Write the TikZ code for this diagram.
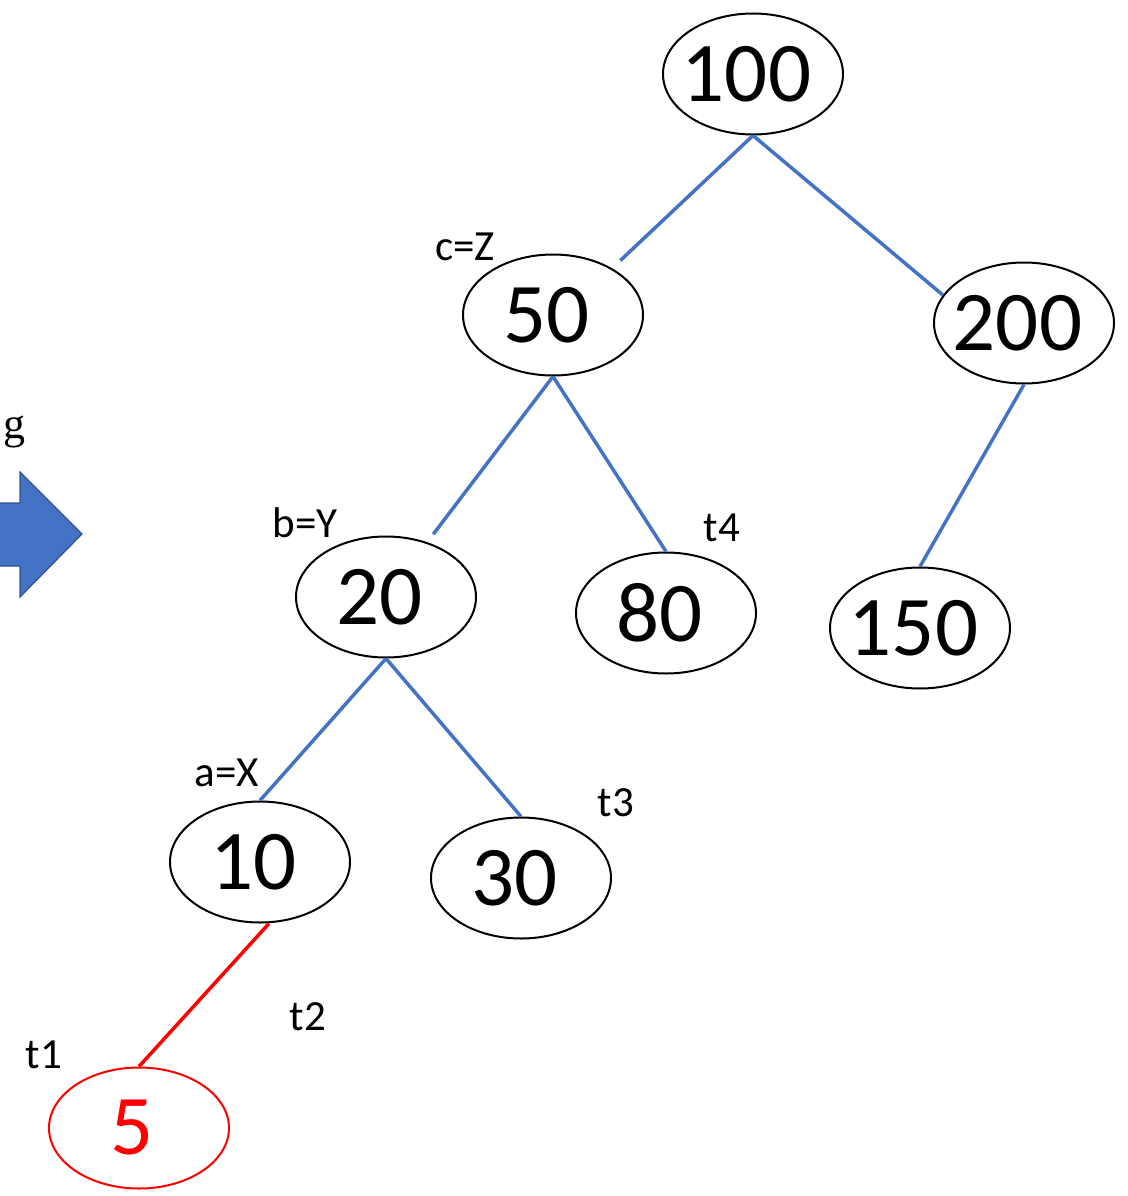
\documentclass[tikz,border=0pt]{standalone}
\usepackage{fontspec}
\setmainfont{Carlito}
\newfontfamily\serifg{Liberation Serif}
\usetikzlibrary{shapes.geometric}
\definecolor{edgeblue}{HTML}{4472C4}
\definecolor{arrowborder}{HTML}{2F528F}
\tikzset{
  tnode/.style={ellipse, draw=black, line width=2pt, minimum width=180pt, minimum height=121pt, inner sep=0pt, font=\fontsize{85}{85}\selectfont, execute at begin node=\kern-13pt},
  rnode/.style={tnode, draw=red, text=red},
  tedge/.style={edgeblue, line width=3.5pt},
  redge/.style={red, line width=3.5pt},
  lbl/.style={inner sep=0pt, font=\fontsize{43}{43}\selectfont}
}
\begin{document}
\begin{tikzpicture}[x=1pt,y=-1pt]
\useasboundingbox (0,0) rectangle (1127,1196);
\clip (0,0) rectangle (1127,1196);
% nodes
\node[tnode] (n100) at (753,74) {100};
\node[tnode] (n50) at (553,315) {50};
\node[tnode] (n200) at (1024,323) {200};
\node[tnode] (n20) at (386,597) {20};
\node[tnode] (n80) at (666,613) {80};
\node[tnode] (n150) at (920,628) {150};
\node[tnode] (n10) at (260,862) {10};
\node[tnode] (n30) at (521,878) {30};
\node[rnode] (n5) at (139,1128) {5};
% edges
\draw[tedge] (n100.south) -- ([shift={(3,-11)}]n50.north east);
\draw[tedge] (n100.south) -- (n200.161);
\draw[tedge] (n50.south) -- ([shift={(6,-8)}]n20.53);
\draw[tedge] (n50.south) -- (n80.north);
\draw[tedge] (n200.south) -- (n150.north);
\draw[tedge] (n20.south) -- (n10.north);
\draw[tedge] (n20.south) -- (n30.north);
\draw[redge] ([xshift=9pt]n10.south) -- (n5.north);
% labels
\node[lbl] (lc) at (465,247) {c=Z};
\node[lbl] (lb) at (305,523) {b=Y};
\node[lbl] (la) at (227,773) {a=X};
\node[lbl] (t4) at (722,528) {t4};
\node[lbl] (t3) at (616,803) {t3};
\node[lbl] (t2) at (308,1017) {t2};
\node[lbl] (t1) at (44,1055) {t1};
\node[inner sep=0pt, anchor=base east, font=\serifg\fontsize{44}{44}\selectfont] (gtext) at (26,438) {g};
% block arrow
\draw[fill=edgeblue, draw=arrowborder, line width=1.2pt]
  (-10,503) -- (20,503) -- (20,472) -- (82,534) -- (20,597) -- (20,566) -- (-10,566) -- cycle;
\end{tikzpicture}
\end{document}
